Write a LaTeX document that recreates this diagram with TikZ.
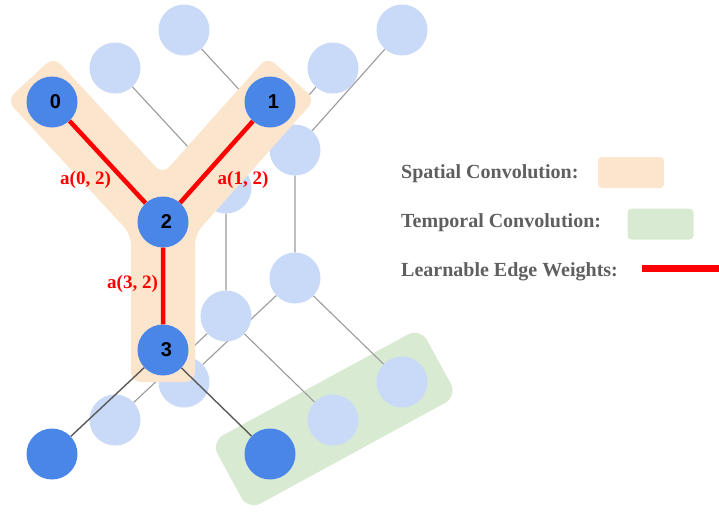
\documentclass[tikz,border=0pt]{standalone}
\usepackage{fontspec}
\setmainfont{Liberation Serif}
\setsansfont{Liberation Sans}
\definecolor{spatial}{HTML}{FCE5CD}
\definecolor{temporal}{HTML}{D9EAD3}
\definecolor{jointlight}{HTML}{C9DAF8}
\definecolor{jointdark}{HTML}{4A86E8}
\definecolor{weightred}{HTML}{FF0000}
\definecolor{bonelight}{HTML}{9A9A9A}
\definecolor{bonedark}{HTML}{5A5A5A}
\definecolor{legendfg}{HTML}{5F5F5F}

\begin{document}
\begin{tikzpicture}[
    x=1pt, y=-1pt,
    joint/.style={circle, minimum size=51pt, inner sep=0pt},
    ghostjoint/.style={joint, fill=jointlight},
    keyjoint/.style={joint, fill=jointdark},
    digit/.style={xshift=3.5pt, inner sep=0pt,
        font=\sffamily\bfseries\fontsize{20}{22}\selectfont},
    bone/.style={bonelight, line width=1.1pt},
    frontbone/.style={bonedark, line width=1.4pt},
    edgeweight/.style={weightred, line width=4.5pt},
    weightlabel/.style={text=weightred, inner sep=0pt, anchor=base,
        font=\bfseries\fontsize{19}{21}\selectfont},
    legendtext/.style={text=legendfg, inner sep=0pt, anchor=base west,
        font=\bfseries\fontsize{20}{24}\selectfont},
    swatch/.style={rounded corners=4pt, minimum width=66pt,
        minimum height=31pt, inner sep=0pt},
]
\useasboundingbox (0,0) rectangle (719,512);

% =============================================
% TEMPORAL BOX (behind everything)
% =============================================
\fill[temporal, rounded corners=14pt]
    (229.6,476) -- (248.3,510.2) -- (457.6,396.1) -- (420.2,327.7)
    -- (210.9,441.8) -- cycle;

% =============================================
% EARLIER FRAMES – light skeletons (back to front)
% =============================================
\foreach \fr/\sx/\sy in {c/132/-72, b/63/-34} {
  \begin{scope}[shift={(\sx,\sy)}]
    \node[ghostjoint] (\fr0) at (52,102) {};
    \node[ghostjoint] (\fr1) at (270,102) {};
    \node[ghostjoint] (\fr2) at (163,222) {};
    \node[ghostjoint] (\fr3) at (163,350) {};
    \node[ghostjoint] (\fr4) at (52,454) {};
    \node[ghostjoint] (\fr5) at (270,454) {};
  \end{scope}
  \draw[bone] (\fr0) -- (\fr2) (\fr1) -- (\fr2) (\fr2) -- (\fr3)
              (\fr3) -- (\fr4) (\fr3) -- (\fr5);
}

% =============================================
% SPATIAL NEIGHBOURHOOD – Y shape
% =============================================
\fill[spatial, rounded corners=10pt]
    (163,382) -- (195,382) -- (195,234.3) -- (315.2,99.4) -- (267.4,56.8)
    -- (162.6,174.4) -- (53.8,56.8) -- (6.8,100.2) -- (131,234.5)
    -- (131,382) -- cycle;

% =============================================
% CURRENT FRAME – dark skeleton
% =============================================
\node[keyjoint, label={[digit]center:0}] (n0) at (52,102) {};
\node[keyjoint, label={[digit]center:1}] (n1) at (270,102) {};
\node[keyjoint, label={[digit]center:2}] (n2) at (163,222) {};
\node[keyjoint, label={[digit]center:3}] (n3) at (163,350) {};
\node[keyjoint] (n4) at (52,454) {};
\node[keyjoint] (n5) at (270,454) {};

\draw[frontbone] (n3) -- (n4) (n3) -- (n5);
\draw[edgeweight] (n0) -- (n2) (n1) -- (n2) (n3) -- (n2);

% Edge weight labels
\node[weightlabel] (w02) at (85.5,184) {a(0, 2)};
\node[weightlabel] (w12) at (243,184) {a(1, 2)};
\node[weightlabel] (w32) at (132.5,288) {a(3, 2)};

% =============================================
% LEGEND
% =============================================
\node[legendtext] (lspatial) at (401,178) {Spatial Convolution:};
\node[legendtext] (ltemporal) at (401,227) {Temporal Convolution:};
\node[legendtext] (lweights) at (401,276) {Learnable Edge Weights:};

\node[swatch, fill=spatial] (sspatial) at (631,172.5) {};
\node[swatch, fill=temporal] (stemporal) at (660.5,224) {};
\coordinate (wstart) at (642,268.5);
\coordinate (wend) at (719,268.5);
\draw[edgeweight, line width=6.5pt] (wstart) -- (wend);

\end{tikzpicture}
\end{document}
